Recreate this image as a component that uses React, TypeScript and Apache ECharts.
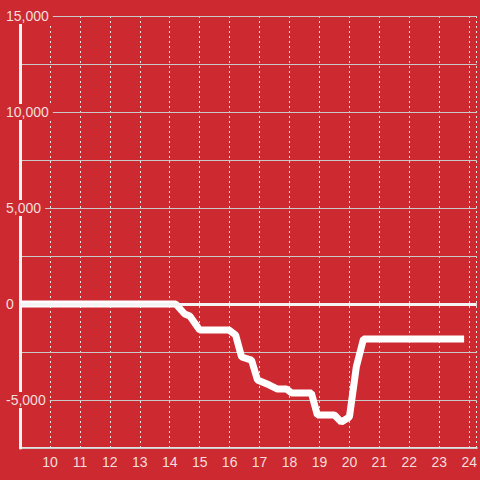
import React, { useEffect, useRef } from "react";
import * as echarts from "echarts";

const xValues: number[] = [9, 14.2, 14.5, 14.67, 15, 15.97, 16.2, 16.4, 16.73, 16.93, 17.33, 17.6, 17.9, 18.07, 18.73, 18.93, 19.5, 19.73, 20.0, 20.23, 20.47, 23.83];
const yValues: number[] = [0, 0, -520, -625, -1350, -1350, -1615, -2760, -2920, -3960, -4220, -4430, -4430, -4640, -4640, -5780, -5780, -6150, -5890, -3280, -1820, -1820];

const Y_MIN = -7500;
const Y_MAX = 15000;
const Y_STEP = 2500;
const Y_LABEL_STEP = 5000;
const X_MIN = 9;
const X_MAX = 24.25;

const BG = "#cc2a30";
const LABEL = "#f3dede";

export default function App() {
  const ref = useRef<HTMLDivElement>(null);
  useEffect(() => {
    if (!ref.current) return;
    const chart = echarts.init(ref.current, null, { renderer: "svg" });
    const data = xValues.map((x, i) => [x, yValues[i]]);
    chart.setOption({
      animation: false,
      backgroundColor: BG,
      grid: { left: 20, right: 0, top: 16, bottom: 32, containLabel: false },
      xAxis: {
        type: "value",
        min: X_MIN,
        max: X_MAX,
        interval: 1,
        axisLine: { show: true, onZero: false, lineStyle: { color: "#e2e2e2", width: 2 } },
        axisTick: { show: false },
        axisLabel: {
          color: LABEL,
          fontSize: 14,
          fontFamily: "Liberation Sans",
          margin: 7,
          formatter: (v: number) => (v === X_MIN || Math.abs(v - Math.round(v)) > 1e-6 ? "" : String(Math.round(v))),
        },
        splitLine: { show: true, lineStyle: { color: "#e6e6e6", width: 1, type: [2, 3] } },
      },
      yAxis: {
        type: "value",
        min: Y_MIN,
        max: Y_MAX,
        interval: Y_STEP,
        axisLine: { show: true, lineStyle: { color: "#f4f4f4", width: 3 } },
        axisTick: { show: false },
        axisLabel: {
          color: LABEL,
          fontSize: 14,
          fontFamily: "Liberation Sans",
          align: "left",
          margin: 14,
          backgroundColor: BG,
          padding: [1, 4, 1, 0],
          formatter: (v: number) => (v % Y_LABEL_STEP === 0 && v !== Y_MIN ? v.toLocaleString("en-US") : ""),
        },
        splitLine: { show: true, lineStyle: { color: "#c9c9c9", width: 1 } },
        z: 3,
      },
      series: [
        {
          type: "line",
          data,
          showSymbol: false,
          symbol: "none",
          lineStyle: { color: "#ffffff", width: 7 },
          z: 4,
          markLine: {
            silent: true,
            symbol: "none",
            label: { show: false },
            lineStyle: { color: "#f4f4f4", width: 3, type: "solid" },
            data: [{ yAxis: 0 }],
          },
        },
      ],
    });
    return () => chart.dispose();
  }, []);
  return <div ref={ref} style={{ position: "fixed", left: 0, top: 0, width: 480, height: 480 }} />;
}
